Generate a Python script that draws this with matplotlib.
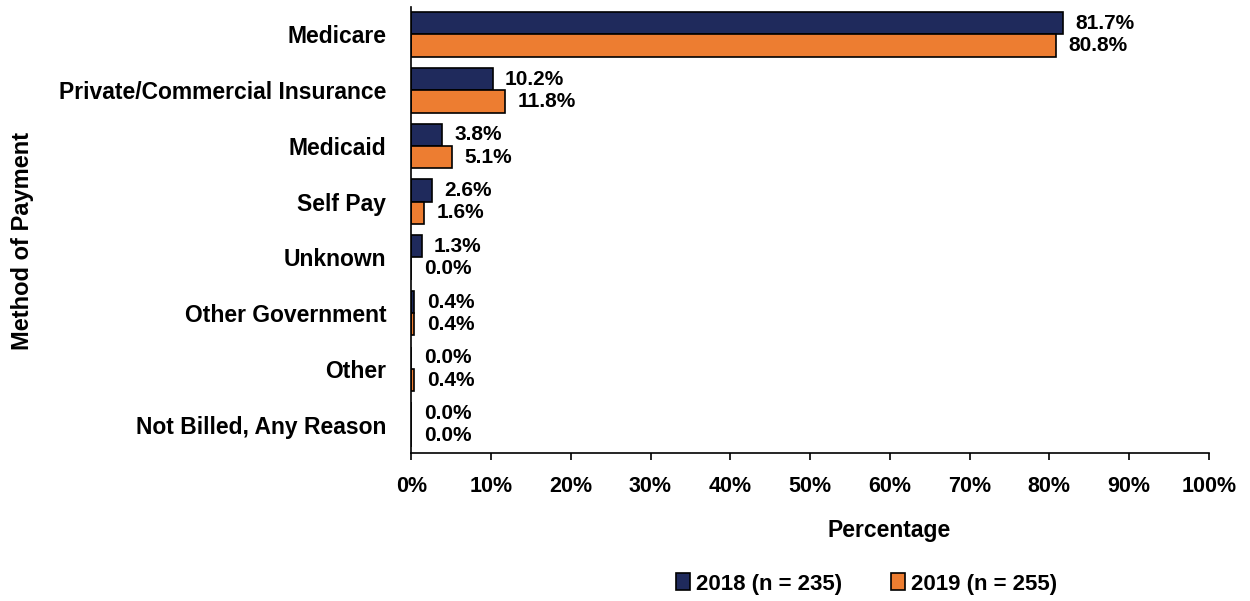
import matplotlib.pyplot as plt
import numpy as np

plt.rcParams['font.family'] = ['Liberation Sans', 'DejaVu Sans']
plt.rcParams['font.weight'] = 'bold'

categories = ['Medicare', 'Private/Commercial Insurance', 'Medicaid', 'Self Pay',
              'Unknown', 'Other Government', 'Other', 'Not Billed, Any Reason']
vals_2018 = [81.7, 10.2, 3.8, 2.6, 1.3, 0.4, 0.0, 0.0]
vals_2019 = [80.8, 11.8, 5.1, 1.6, 0.0, 0.4, 0.4, 0.0]
series_labels = ['2018 (n = 235)', '2019 (n = 255)']

navy = '#1f2a5c'
orange = '#ed7d31'

fig = plt.figure(figsize=(12.5, 6.01), dpi=100)
ax = fig.add_axes([0.329, 0.247, 0.638, 0.742])

y = np.arange(len(categories))
h = 0.4
b1 = ax.barh(y - h / 2, vals_2018, height=h, color=navy, edgecolor='black', linewidth=1.2,
             label=series_labels[0])
b2 = ax.barh(y + h / 2, vals_2019, height=h, color=orange, edgecolor='black', linewidth=1.2,
             label=series_labels[1])

# value labels to the right of every bar
for bars, vals in [(b1, vals_2018), (b2, vals_2019)]:
    for bar, v in zip(bars, vals):
        ax.annotate(f'{v:.1f}%', (v, bar.get_y() + bar.get_height() / 2),
                    xytext=(9, 0), textcoords='offset points', va='center', ha='left',
                    fontsize=15, fontweight='bold')

ax.set_xlim(0, 100)
ax.set_ylim(len(categories) - 0.5, -0.5)
ax.set_yticks(y)
ax.set_yticklabels(categories, fontsize=16.5, fontweight='bold')
ax.tick_params(axis='y', length=0, pad=18)
ax.set_xticks(np.arange(0, 101, 10))
ax.set_xticklabels([f'{t}%' for t in range(0, 101, 10)], fontsize=15.5, fontweight='bold')
ax.tick_params(axis='x', direction='out', length=5, width=1.2, pad=12)

for s in ['top', 'right']:
    ax.spines[s].set_visible(False)
ax.spines['left'].set_linewidth(1.2)
ax.spines['bottom'].set_linewidth(1.2)

fig.text(889 / 1250, 1 - 530 / 601, 'Percentage', fontsize=16.5, fontweight='bold',
         ha='center', va='center')
fig.text(23 / 1250, 1 - 241 / 601, 'Method of Payment', fontsize=17, fontweight='bold',
         ha='center', va='center', rotation=90)

fig.legend(handles=[b1, b2], loc='center', bbox_to_anchor=(867 / 1250, 1 - 584 / 601), ncol=2,
           frameon=False, fontsize=16, handlelength=0.6, handleheight=0.8,
           handletextpad=0.3, columnspacing=2.2)

fig.savefig('out.png', dpi=100)
